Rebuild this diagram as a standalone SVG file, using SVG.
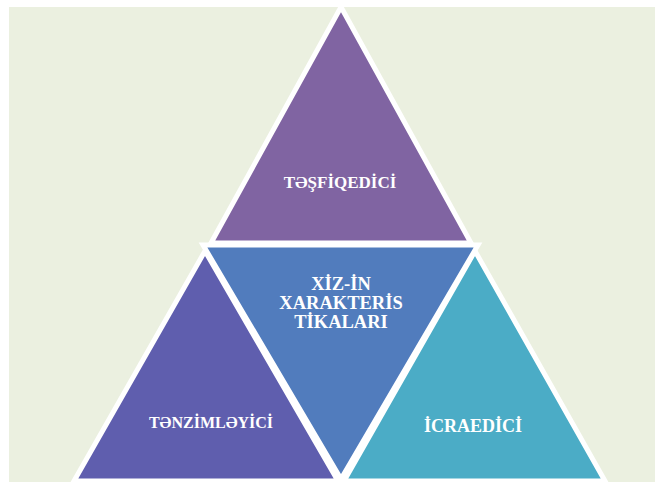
<svg xmlns="http://www.w3.org/2000/svg" width="655" height="484" viewBox="0 0 655 484">
<style>
.tri{stroke:#FFFFFF;stroke-width:5;stroke-linejoin:miter}
.lbl{font-family:"Liberation Serif","Times New Roman",serif;font-weight:bold;fill:#FFFFFF;text-anchor:middle}
</style>
<rect x="0" y="0" width="655" height="484" fill="#FFFFFF"/>
<rect x="9" y="7" width="646" height="475" fill="#EBF0E0"/>
<g id="top">
<polygon class="tri" points="341,7 211,243 471,243" fill="#8064A2"/>
<text class="lbl" x="340" y="188" font-size="17">TƏŞFİQEDİCİ</text>
</g>
<g id="left">
<polygon class="tri" points="205,251 74,481 338,481" fill="#5F5EAE"/>
<text class="lbl" x="211" y="428" font-size="16">TƏNZİMLƏYİCİ</text>
</g>
<g id="right">
<polygon class="tri" points="475,251 344,481 605,481" fill="#4BACC6"/>
<text class="lbl" x="473" y="432" font-size="18">İCRAEDİCİ</text>
</g>
<g id="center">
<polygon class="tri" points="203,245 478,245 341,479" fill="#517CBD"/>
<text class="lbl" font-size="18.5"><tspan x="341" y="290">XİZ-İN</tspan><tspan x="341" y="309">XARAKTERİS</tspan><tspan x="341" y="328">TİKALARI</tspan></text>
</g>
<g id="connectors"></g>
</svg>
